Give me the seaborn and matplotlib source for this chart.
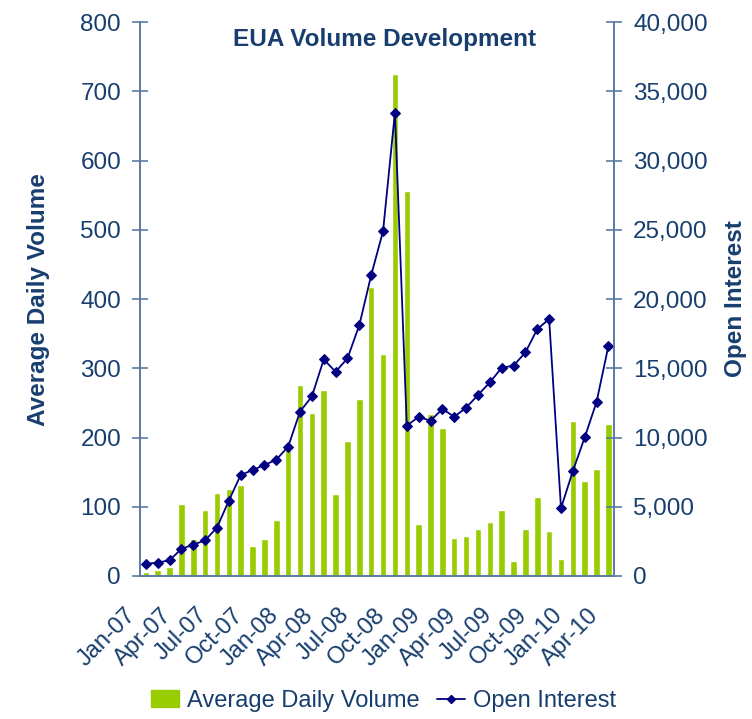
import matplotlib
matplotlib.use("Agg")
import matplotlib.pyplot as plt
import matplotlib.transforms as mtrans
import numpy as np
import pandas as pd
import seaborn as sns
import matplotlib.ticker as tkr
from matplotlib.lines import Line2D
from matplotlib.patches import Patch

# monthly data, Jan-07 .. Apr-10
months = pd.date_range("2007-01-01", "2010-04-01", freq="MS").strftime("%b-%y").tolist()
volume = [5, 8, 13, 104, 53, 95, 120, 126, 131, 43, 53, 81,
          187, 276, 235, 269, 118, 195, 256, 417, 320, 725, 556, 75,
          234, 214, 55, 58, 68, 78, 95, 21, 68, 114, 65, 24,
          224, 137, 154, 219]
open_interest = [870, 960, 1130, 1950, 2260, 2570, 3490, 5440, 7290, 7650, 8010, 8400,
                 9340, 11870, 12970, 15640, 14750, 15720, 18120, 21730, 24910, 33480, 10850, 11500,
                 11210, 12060, 11500, 12150, 13070, 13980, 15040, 15190, 16150, 17830, 18560, 4890,
                 7580, 10010, 12580, 16630]
tick_labels = months[::3]

txt = "#173E6E"
spine_col = "#5B7BA3"
green = "#99CC00"
navy = "#000080"

sns.set_style("white")
plt.rcParams['font.family'] = ['Liberation Sans', 'DejaVu Sans']

df = pd.DataFrame({"month": months, "idx": np.arange(len(months)),
                   "volume": volume, "oi": open_interest})

fig, ax = plt.subplots(figsize=(7.52, 7.19), dpi=100)
fig.subplots_adjust(left=0.186, right=0.817, top=0.969, bottom=0.199)

sns.barplot(data=df, x="idx", y="volume", color=green, width=0.55,
            saturation=1, ax=ax, order=list(range(len(months))))
ax.set_ylim(0, 800)
ax.set_xlim(-0.5, len(months) - 0.5)

ax2 = ax.twinx()
sns.lineplot(data=df, x="idx", y="oi", color=navy, marker="D", markersize=5.5,
             markeredgecolor=navy, linewidth=1.3, ax=ax2)
ax2.set_ylim(0, 40000)
ax2.set_xlim(-0.5, len(months) - 0.5)
ax2.yaxis.set_major_locator(tkr.MultipleLocator(5000))
ax2.yaxis.set_major_formatter(tkr.StrMethodFormatter("{x:,.0f}"))
ax.yaxis.set_major_locator(tkr.MultipleLocator(100))

# ticks on the category boundaries, labels set a bit down-left of each tick
tick_pos = np.arange(0, len(months), 3) - 0.5
ax.set_xticks(tick_pos)
ax.set_xticklabels([])
offset = mtrans.ScaledTranslation(-0.15, -0.28, fig.dpi_scale_trans)
for pos, lab in zip(tick_pos, tick_labels):
    ax.text(pos, 0, lab, transform=ax.get_xaxis_transform() + offset, rotation=45,
            ha="right", va="top", rotation_mode="anchor", fontsize=17, color=txt,
            clip_on=False)

for a in (ax, ax2):
    for s in a.spines.values():
        s.set_color(spine_col)
        s.set_linewidth(1.2)
    a.spines["top"].set_visible(False)
    a.tick_params(colors=spine_col, labelcolor=txt, labelsize=17.5, direction="inout",
                  length=11, width=1.2, pad=8)
ax.tick_params(axis="x", length=8)

ax.set_xlabel("")
ax.set_ylabel("Average Daily Volume", fontsize=17.5, fontweight="bold", color=txt, labelpad=22)
ax2.set_ylabel("Open Interest", fontsize=17.5, fontweight="bold", color=txt, labelpad=12)
ax2.set_xlabel("")

ax.text(0.515, 0.99, "EUA Volume Development", transform=ax.transAxes, ha="center", va="top",
        fontsize=17.5, fontweight="bold", color=txt)

handles = [Patch(color=green), Line2D([0], [0], color=navy, marker="D", markersize=4.5, linewidth=1.3)]
fig.legend(handles, ["Average Daily Volume", "Open Interest"], loc="center",
           bbox_to_anchor=(0.51, 0.025), ncol=2, frameon=False, fontsize=17,
           labelcolor=txt, handlelength=1.2, handletextpad=0.35, columnspacing=0.7)

fig.savefig("out.png", dpi=100)
